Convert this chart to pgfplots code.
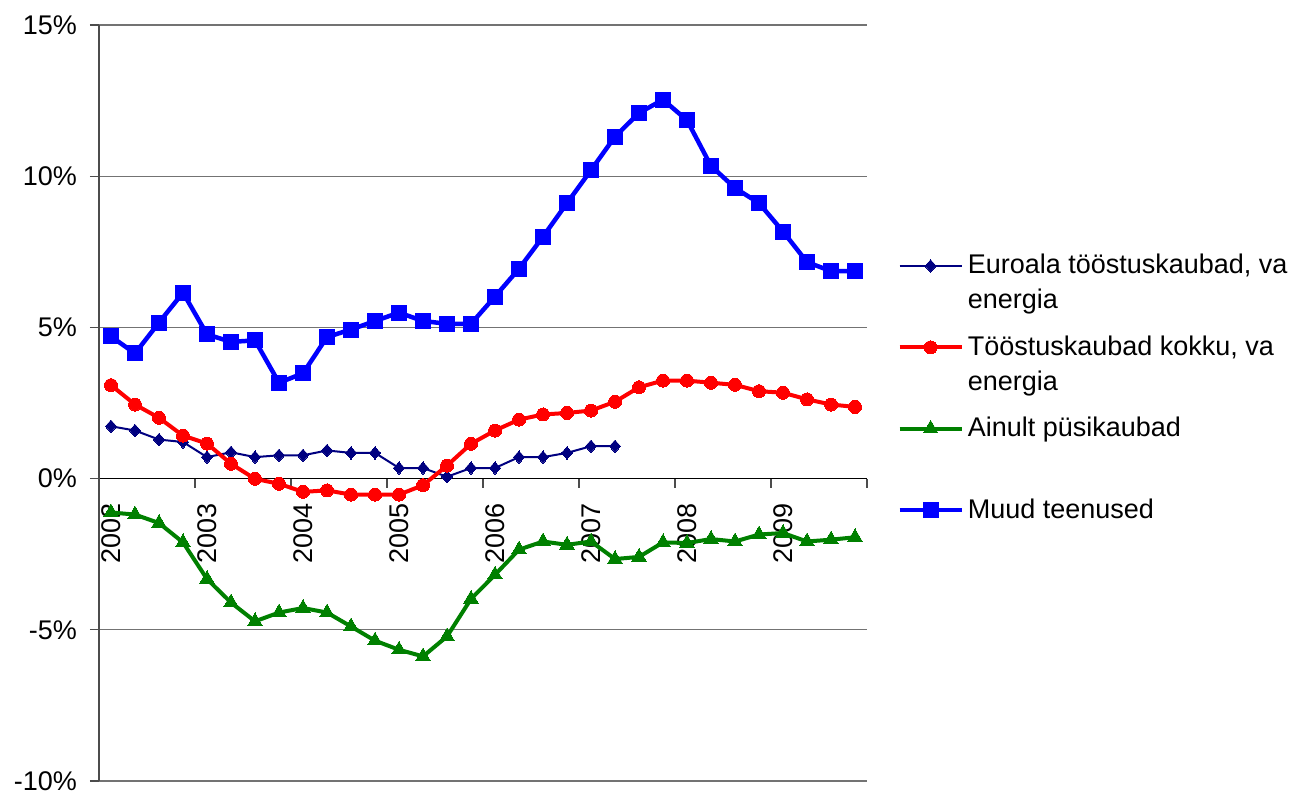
\documentclass[border=0pt]{standalone}
\usepackage{fontspec}
\setmainfont{Liberation Sans}
\usepackage{pgfplots}
\pgfplotsset{compat=1.18}
\definecolor{cnavy}{RGB}{0,0,128}
\definecolor{cred}{RGB}{255,0,0}
\definecolor{cgreen}{RGB}{0,128,0}
\definecolor{cblue}{RGB}{0,0,255}
\begin{document}
\begin{tikzpicture}
\begin{axis}[
  at={(0,0)}, anchor=south west,
  scale only axis, width=384pt, height=378pt,
  font=\fontsize{13.5}{17.5}\selectfont,
  xmin=-0.5, xmax=31.5, ymin=-10, ymax=15,
  axis y line=left, axis x line=middle,
  axis line style={-},
  x axis line style={black, line width=0.6pt},
  y axis line style={black!70, line width=0.6pt},
  ytick={-10,-5,0,5,10,15},
  yticklabels={-10\%,-5\%,0\%,5\%,10\%,15\%},
  yticklabel style={anchor=east, xshift=-3pt},
  ytick style={black!70, line width=0.6pt},
  tick align=outside,
  major tick length=4.5pt,
  xtick={-0.5,3.5,...,31.5},
  xticklabels={},
  xtick style={black!70, line width=0.6pt},
  extra x ticks={0,4,8,12,16,20,24,28},
  extra x tick labels={2002,2003,2004,2005,2006,2007,2008,2009},
  extra x tick style={major tick length=0pt, ticklabel style={yshift=-9pt, rotate=90, anchor=east}},
  ymajorgrids,
  major grid style={black!55, line width=0.6pt},
  clip=false,
  legend cell align=left,
  legend style={at={(axis description cs:1.039,0.703)}, anchor=north west,
    draw=none, fill=none, inner sep=0pt, row sep=28.7pt, column sep=2pt,
    font=\fontsize{13.5}{17.5}\selectfont,
    nodes={inner xsep=0pt, inner ysep=0pt, text height=12pt, text depth=0pt}},
  legend image code/.code={\draw[#1, mark repeat=2, mark phase=2] plot coordinates {(0pt,-2pt)(15.5pt,-2pt)(31pt,-2pt)};},
]
\addplot[cnavy, line width=1pt, mark=diamond*, mark size=3.1pt, mark options={solid, line width=0pt, xscale=1.2}] coordinates {
(0,1.73)(1,1.59)(2,1.29)(3,1.21)(4,0.71)(5,0.87)(6,0.71)(7,0.77)(8,0.77)(9,0.93)(10,0.85)(11,0.85)(12,0.35)(13,0.35)(14,0.06)(15,0.35)(16,0.35)(17,0.71)(18,0.71)(19,0.85)(20,1.07)(21,1.07)};
\addlegendentry{\parbox[t]{8cm}{Euroala tööstuskaubad, va\\energia}}
\addplot[cred, line width=2pt, mark=*, mark size=3.25pt, mark options={solid, line width=0pt}] coordinates {
(0,3.09)(1,2.45)(2,2.01)(3,1.42)(4,1.16)(5,0.49)(6,-0.01)(7,-0.17)(8,-0.44)(9,-0.39)(10,-0.53)(11,-0.53)(12,-0.53)(13,-0.22)(14,0.43)(15,1.15)(16,1.59)(17,1.95)(18,2.12)(19,2.17)(20,2.25)(21,2.54)(22,3.02)(23,3.24)(24,3.24)(25,3.17)(26,3.10)(27,2.89)(28,2.84)(29,2.62)(30,2.45)(31,2.37)};
\addlegendentry{\parbox[t]{8cm}{Tööstuskaubad kokku, va\\energia}}
\addplot[cgreen, line width=2pt, mark=triangle*, mark size=4.2pt, mark options={solid, line width=0pt}] coordinates {
(0,-1.12)(1,-1.19)(2,-1.47)(3,-2.11)(4,-3.32)(5,-4.10)(6,-4.72)(7,-4.43)(8,-4.28)(9,-4.43)(10,-4.89)(11,-5.36)(12,-5.66)(13,-5.88)(14,-5.22)(15,-3.98)(16,-3.18)(17,-2.35)(18,-2.08)(19,-2.19)(20,-2.08)(21,-2.66)(22,-2.59)(23,-2.11)(24,-2.13)(25,-2.00)(26,-2.08)(27,-1.85)(28,-1.80)(29,-2.08)(30,-2.02)(31,-1.94)};
\addlegendentry{Ainult püsikaubad}
\addplot[cblue, line width=2.25pt, mark=square*, mark size=3.75pt, mark options={solid, line width=0pt}] coordinates {
(0,4.70)(1,4.14)(2,5.16)(3,6.15)(4,4.77)(5,4.52)(6,4.57)(7,3.17)(8,3.48)(9,4.68)(10,4.93)(11,5.21)(12,5.49)(13,5.21)(14,5.12)(15,5.12)(16,6.02)(17,6.94)(18,8.00)(19,9.11)(20,10.20)(21,11.31)(22,12.09)(23,12.53)(24,11.85)(25,10.34)(26,9.61)(27,9.11)(28,8.17)(29,7.16)(30,6.86)(31,6.86)};
\addlegendentry{Muud teenused}
\end{axis}
\pgfresetboundingbox
\path[use as bounding box] (-49.5pt,-5pt) rectangle (604pt,390.5pt);
\end{tikzpicture}
\end{document}
